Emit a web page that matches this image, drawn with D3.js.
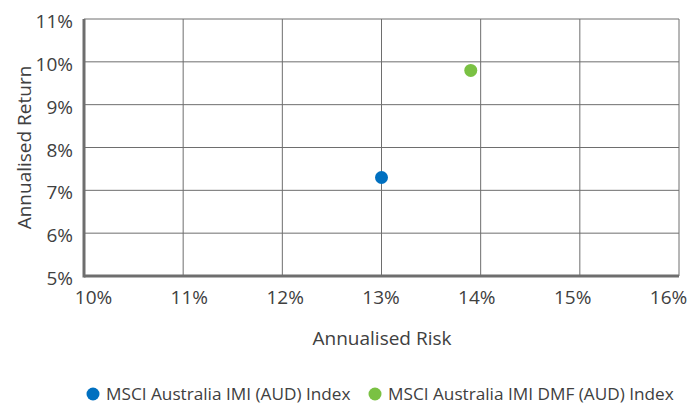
<!DOCTYPE html>
<html>
<head>
<meta charset="utf-8">
<script src="https://cdn.jsdelivr.net/npm/d3@7"></script>
<style>
  body { margin: 0; background: #fff; }
  svg { display: block; font-family: "Open Sans", Lato, sans-serif; }
</style>
</head>
<body>
<div id="container"></div>
<script>
const width = 691;
const height = 405;
const margin = {top: 19, right: 12, bottom: 129, left: 84};

// data
const seriesNames = ["MSCI Australia IMI (AUD) Index", "MSCI Australia IMI DMF (AUD) Index"];
const riskValues = [13.0, 13.9];
const returnValues = [7.3, 9.8];
const seriesColors = ["#0070c0", "#7ac143"];
const xTicks = [10, 11, 12, 13, 14, 15, 16];
const yTicks = [5, 6, 7, 8, 9, 10, 11];

const points = seriesNames.map(function(name, i) {
    return {name: name, risk: riskValues[i], ret: returnValues[i], color: seriesColors[i]};
});

const svg = d3.select("#container").append("svg")
    .attr("width", width)
    .attr("height", height);

const xScale = d3.scaleLinear().domain([10, 16]).range([margin.left, width - margin.right]);
const yScale = d3.scaleLinear().domain([5, 11]).range([height - margin.bottom, margin.top]);
// x labels are spread a bit narrower than the grid in the original
const xLabelScale = d3.scaleLinear().domain([10, 16]).range([93, 668]);

//------------------GRID------------------//
svg.append("g")
    .selectAll("line")
    .data(yTicks.slice(1))
    .enter()
    .append("line")
    .attr("x1", xScale(10))
    .attr("x2", xScale(16))
    .attr("y1", function(d) { return yScale(d); })
    .attr("y2", function(d) { return yScale(d); })
    .style("stroke", "#6e6e6e")
    .style("stroke-width", 1);

svg.append("g")
    .selectAll("line")
    .data(xTicks.slice(1))
    .enter()
    .append("line")
    .attr("x1", function(d) { return xScale(d); })
    .attr("x2", function(d) { return xScale(d); })
    .attr("y1", yScale(5))
    .attr("y2", yScale(11))
    .style("stroke", "#6e6e6e")
    .style("stroke-width", 1);

//------------------AXES------------------//
const xaxis = d3.axisBottom(xLabelScale)
    .tickValues(xTicks)
    .tickSize(0)
    .tickPadding(15)
    .tickFormat(function(d) { return d + "%"; });

const yaxis = d3.axisLeft(yScale)
    .tickValues(yTicks)
    .tickSize(0)
    .tickPadding(11)
    .tickFormat(function(d) { return d + "%"; });

const gx = svg.append("g")
    .attr("transform", "translate(0," + yScale(5) + ")")
    .call(xaxis);
gx.select(".domain").remove();

const gy = svg.append("g")
    .attr("transform", "translate(" + xScale(10) + ",0)")
    .call(yaxis);
gy.select(".domain").remove();
gy.selectAll(".tick text").attr("dy", "0.45em");

svg.selectAll(".tick text")
    .style("font-size", "19px")
    .style("fill", "#404040")
    .style("font-family", "'Open Sans', Lato, sans-serif");

// thick axis lines
svg.append("line")
    .attr("x1", xScale(10)).attr("x2", xScale(16))
    .attr("y1", yScale(5)).attr("y2", yScale(5))
    .style("stroke", "#6e6e6e").style("stroke-width", 3);
svg.append("line")
    .attr("x1", xScale(10)).attr("x2", xScale(10))
    .attr("y1", yScale(5) + 1.5).attr("y2", yScale(11))
    .style("stroke", "#6e6e6e").style("stroke-width", 3);

// axis titles
svg.append("text")
    .attr("x", 382)
    .attr("y", 345)
    .style("text-anchor", "middle")
    .style("font-size", "19px")
    .style("fill", "#404040")
    .text("Annualised Risk");

svg.append("text")
    .attr("transform", "translate(31," + ((yScale(5) + yScale(11)) / 2) + ") rotate(-90)")
    .style("text-anchor", "middle")
    .style("font-size", "19px")
    .style("fill", "#404040")
    .text("Annualised Return");

//------------------POINTS------------------//
svg.selectAll("circle.pt")
    .data(points)
    .enter()
    .append("circle")
    .attr("class", "pt")
    .attr("cx", function(d) { return xScale(d.risk); })
    .attr("cy", function(d) { return yScale(d.ret); })
    .attr("r", 6.5)
    .style("fill", function(d) { return d.color; });

//------------------LEGEND------------------//
const legend = svg.append("g").attr("transform", "translate(0,394)");
const legendX = [93, 375];
const items = legend.selectAll("g")
    .data(points)
    .enter()
    .append("g")
    .attr("transform", function(d, i) { return "translate(" + legendX[i] + ",0)"; });

items.append("circle")
    .attr("r", 6.5)
    .style("fill", function(d) { return d.color; });

items.append("text")
    .attr("x", 13)
    .attr("y", 6)
    .style("font-size", "17.2px")
    .style("fill", "#404040")
    .text(function(d) { return d.name; });
</script>
</body>
</html>
